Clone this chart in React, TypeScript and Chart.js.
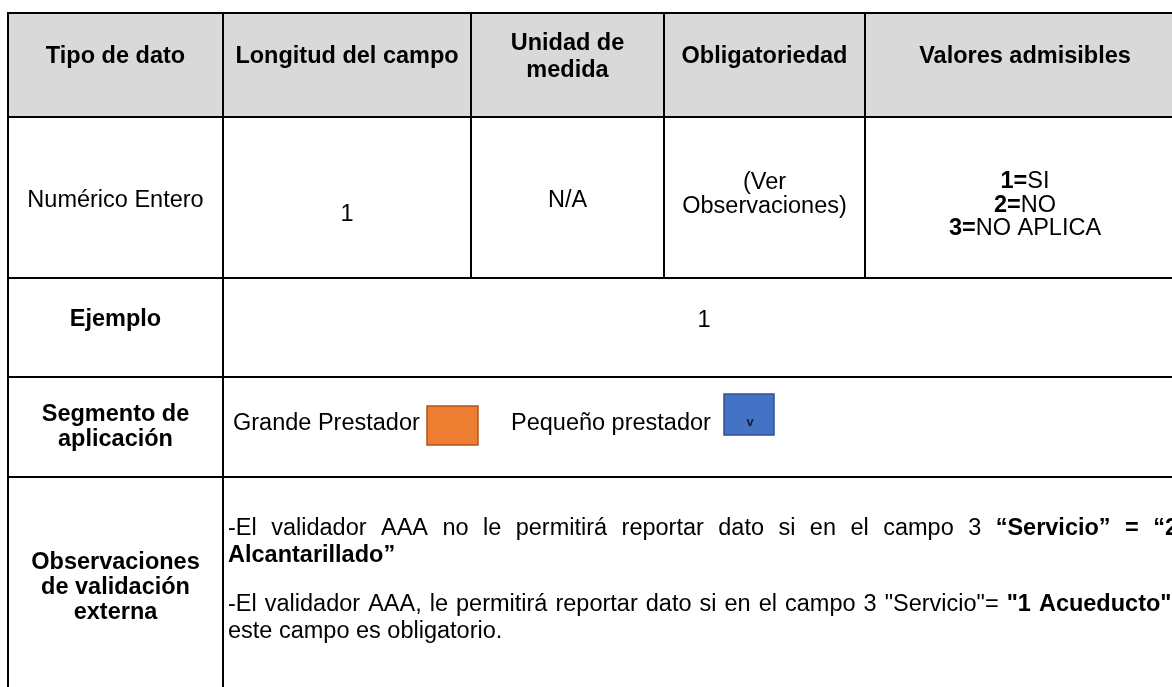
import React, { useEffect, useRef } from "react";
import { Chart, registerables } from "chart.js";

Chart.register(...registerables);

// ---------------- data (text content of the table) ----------------
const headerLabels = ["Tipo de dato", "Longitud del campo", "Unidad de|medida", "Obligatoriedad", "Valores admisibles"];
const fieldType = "Numérico Entero";
const fieldLength = "1";
const fieldUnit = "N/A";
const fieldRequired = ["(Ver", "Observaciones)"];
const allowedCodes = ["1=", "2=", "3="];
const allowedNames = ["SI", "NO", "NO APLICA"];
const rowLabels = ["Ejemplo", "Segmento de|aplicación", "Observaciones|de validación|externa"];
const exampleValue = "1";
const segmentNames = ["Grande Prestador", "Pequeño prestador"];
const segmentMark = "v";
const obs1Plain = "-El validador AAA no le permitirá reportar dato si en el campo 3";
const obs1Bold = "“Servicio” = “2";
const obs2Bold = "Alcantarillado”";
const obs3Plain = '-El validador AAA, le permitirá reportar dato si en el campo 3 "Servicio"=';
const obs3Bold = '"1 Acueducto"';
const obs3Tail = ",";
const obs4Plain = "este campo es obligatorio.";

// ---------------- layout / style ----------------
const W = 1172;
const H = 687;
const COLS = [8, 223, 471, 664, 865, 1185];
const ROWS = [13, 117, 278, 377, 477, 760];
const FONT = '"Liberation Sans", Arial, Helvetica, sans-serif';
const FS = 23.5;
const LH = 25;
const HALF_CAP = FS * 0.716 * 0.5;
const TEXT_LEFT = 228;
const TEXT_RIGHT = 1178;

type Run = { t: string; b: boolean };

function setFont(ctx: CanvasRenderingContext2D, bold: boolean, size = FS) {
  ctx.font = `${bold ? "bold " : ""}${size}px ${FONT}`;
}
function runsWidth(ctx: CanvasRenderingContext2D, runs: Run[]) {
  let w = 0;
  for (const r of runs) {
    setFont(ctx, r.b);
    w += ctx.measureText(r.t).width;
  }
  return w;
}
function drawRuns(ctx: CanvasRenderingContext2D, runs: Run[], x: number, cy: number) {
  let cx = x;
  for (const r of runs) {
    setFont(ctx, r.b);
    ctx.fillText(r.t, cx, cy + HALF_CAP);
    cx += ctx.measureText(r.t).width;
  }
}
function drawCentered(ctx: CanvasRenderingContext2D, runs: Run[], cx: number, cy: number) {
  const w = runsWidth(ctx, runs);
  drawRuns(ctx, runs, cx - w / 2, cy);
}
function drawLinesCentered(ctx: CanvasRenderingContext2D, text: string, bold: boolean, cx: number, cy: number, lh = LH) {
  const lines = text.split("|");
  const top = cy - ((lines.length - 1) * lh) / 2;
  lines.forEach((l, i) => drawCentered(ctx, [{ t: l, b: bold }], cx, top + i * lh));
}
function drawJustified(ctx: CanvasRenderingContext2D, words: Run[][], x0: number, x1: number, cy: number) {
  const widths = words.map((w) => runsWidth(ctx, w));
  const total = widths.reduce((a, b) => a + b, 0);
  const gap = (x1 - x0 - total) / (words.length - 1);
  let x = x0;
  words.forEach((w, i) => {
    drawRuns(ctx, w, x, cy);
    x += widths[i] + gap;
  });
}
function toWords(text: string, bold: boolean): Run[][] {
  return text.split(" ").map((t) => [{ t, b: bold }]);
}

const tablePlugin = {
  id: "specTable",
  beforeDraw(chart: any) {
    const { ctx } = chart;
    const sx = chart.scales.x;
    const sy = chart.scales.y;
    const px = (v: number) => sx.getPixelForValue(v);
    const py = (v: number) => sy.getPixelForValue(v);
    const colC = (i: number) => (px(COLS[i]) + px(COLS[i + 1])) / 2;

    ctx.save();
    ctx.fillStyle = "#ffffff";
    ctx.fillRect(0, 0, chart.width, chart.height);

    // header background
    ctx.fillStyle = "#d9d9d9";
    ctx.fillRect(px(COLS[0]), py(ROWS[0]), px(COLS[5]) - px(COLS[0]), py(ROWS[1]) - py(ROWS[0]));

    ctx.fillStyle = "#000000";
    ctx.textBaseline = "alphabetic";

    // header
    headerLabels.forEach((h, i) => drawLinesCentered(ctx, h, true, colC(i), py(55), 27));

    // row 2
    drawCentered(ctx, [{ t: fieldType, b: false }], colC(0), py(199));
    drawCentered(ctx, [{ t: fieldLength, b: false }], colC(1), py(213));
    drawCentered(ctx, [{ t: fieldUnit, b: false }], colC(2), py(199));
    fieldRequired.forEach((l, i) => drawCentered(ctx, [{ t: l, b: false }], colC(3), py(181 + i * 23.5)));
    allowedCodes.forEach((c, i) =>
      drawCentered(ctx, [{ t: c, b: true }, { t: allowedNames[i], b: false }], colC(4), py(180 + i * 23.5))
    );

    // row labels
    drawLinesCentered(ctx, rowLabels[0], true, colC(0), py(318));
    drawLinesCentered(ctx, rowLabels[1], true, colC(0), py(425));
    drawLinesCentered(ctx, rowLabels[2], true, colC(0), py(586));

    // example value
    drawCentered(ctx, [{ t: exampleValue, b: false }], (px(COLS[1]) + px(COLS[5])) / 2, py(319));

    // segment row
    drawRuns(ctx, [{ t: segmentNames[0], b: false }], px(233), py(422));
    ctx.fillStyle = "#ED7D31";
    ctx.fillRect(px(427), py(406), px(478) - px(427), py(445) - py(406));
    ctx.strokeStyle = "#B0561E";
    ctx.lineWidth = 1.5;
    ctx.strokeRect(px(427), py(406), px(478) - px(427), py(445) - py(406));
    ctx.fillStyle = "#000000";
    drawRuns(ctx, [{ t: segmentNames[1], b: false }], px(511), py(422));
    ctx.fillStyle = "#4472C4";
    ctx.fillRect(px(724), py(394), px(774) - px(724), py(435) - py(394));
    ctx.strokeStyle = "#2F528F";
    ctx.strokeRect(px(724), py(394), px(774) - px(724), py(435) - py(394));
    ctx.fillStyle = "#1a1a2e";
    setFont(ctx, true, 13);
    const mw = ctx.measureText(segmentMark).width;
    ctx.fillText(segmentMark, px(750) - mw / 2, py(426));

    // observations
    ctx.fillStyle = "#000000";
    drawJustified(ctx, [...toWords(obs1Plain, false), ...toWords(obs1Bold, true)], px(TEXT_LEFT), px(TEXT_RIGHT), py(527));
    drawRuns(ctx, [{ t: obs2Bold, b: true }], px(TEXT_LEFT), py(554));
    const w3 = [...toWords(obs3Plain, false), ...toWords(obs3Bold, true)];
    w3[w3.length - 1] = [...w3[w3.length - 1], { t: obs3Tail, b: false }];
    drawJustified(ctx, w3, px(TEXT_LEFT), px(TEXT_RIGHT), py(603));
    drawRuns(ctx, [{ t: obs4Plain, b: false }], px(TEXT_LEFT), py(630));

    // borders
    ctx.strokeStyle = "#000000";
    ctx.lineWidth = 2;
    ctx.beginPath();
    for (let r = 0; r < 5; r++) {
      ctx.moveTo(px(COLS[0]) - 1, py(ROWS[r]));
      ctx.lineTo(px(COLS[5]), py(ROWS[r]));
    }
    ctx.moveTo(px(COLS[0]), py(ROWS[0]));
    ctx.lineTo(px(COLS[0]), py(ROWS[5]));
    ctx.moveTo(px(COLS[1]), py(ROWS[0]));
    ctx.lineTo(px(COLS[1]), py(ROWS[5]));
    for (let c = 2; c < 5; c++) {
      ctx.moveTo(px(COLS[c]), py(ROWS[0]));
      ctx.lineTo(px(COLS[c]), py(ROWS[2]));
    }
    ctx.stroke();
    ctx.restore();
  },
};

export default function App() {
  const ref = useRef<HTMLCanvasElement | null>(null);
  useEffect(() => {
    document.body.style.margin = "0";
    if (!ref.current) return;
    const chart = new Chart(ref.current, {
      type: "scatter",
      data: { datasets: [] },
      options: {
        responsive: false,
        maintainAspectRatio: false,
        devicePixelRatio: 1,
        animation: false,
        events: [],
        layout: { padding: 0 },
        plugins: { legend: { display: false }, tooltip: { enabled: false }, title: { display: false } },
        scales: {
          x: { type: "linear", display: false, min: 0, max: W },
          y: { type: "linear", display: false, min: 0, max: H, reverse: true },
        },
      },
      plugins: [tablePlugin],
    } as any);
    return () => chart.destroy();
  }, []);
  return (
    <div style={{ position: "absolute", left: 0, top: 0, width: W, height: H, background: "#fff" }}>
      <canvas ref={ref} width={W} height={H} style={{ display: "block", width: W, height: H }} />
    </div>
  );
}
